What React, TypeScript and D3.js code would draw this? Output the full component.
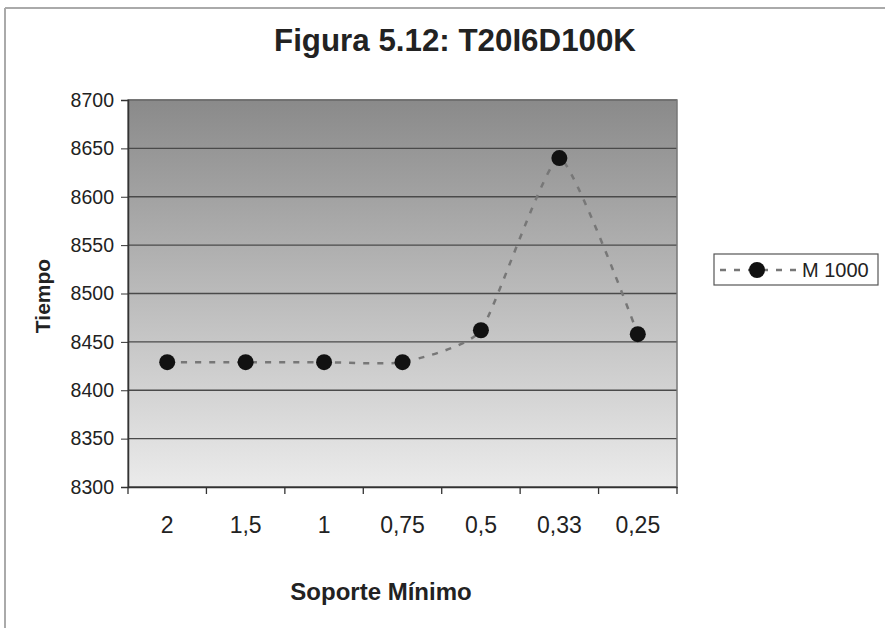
import { useEffect, useRef } from 'react';
import * as d3 from 'd3';

const categories = ['2', '1,5', '1', '0,75', '0,5', '0,33', '0,25'];
const tiempo = [8429, 8429, 8429, 8429, 8462, 8640, 8458];
const yTicks = [8300, 8350, 8400, 8450, 8500, 8550, 8600, 8650, 8700];
const seriesName = 'M 1000';

export default function App() {
  const svgRef = useRef<SVGSVGElement>(null);

  useEffect(() => {
    document.body.style.margin = '0';
    const W = 890;
    const H = 628;
    const m = { top: 100, right: 213, bottom: 141, left: 128 };
    const w = W - m.left - m.right;
    const h = H - m.top - m.bottom;
    const font = 'Arial, "Liberation Sans", sans-serif';

    const root = d3.select(svgRef.current);
    root.selectAll('*').remove();
    root.attr('width', W).attr('height', H).style('display', 'block').style('background', '#fff');

    // outer frame (scan shows left and top edges)
    root.append('line').attr('x1', 5).attr('x2', 5).attr('y1', 8).attr('y2', H)
      .attr('stroke', '#aaa').attr('stroke-width', 2);
    root.append('line').attr('x1', 5).attr('x2', 885).attr('y1', 8).attr('y2', 8)
      .attr('stroke', '#aaa').attr('stroke-width', 2);

    const defs = root.append('defs');
    const grad = defs.append('linearGradient').attr('id', 'bg').attr('x1', 0).attr('x2', 0).attr('y1', 0).attr('y2', 1);
    grad.append('stop').attr('offset', '0%').attr('stop-color', '#8a8a8a');
    grad.append('stop').attr('offset', '100%').attr('stop-color', '#ebebeb');

    const svg = root.append('g').attr('transform', `translate(${m.left},${m.top})`);

    const x = d3.scaleBand().domain(categories).range([0, w]);
    const y = d3.scaleLinear().domain([8300, 8700]).range([h, 0]);

    svg.append('rect').attr('width', w).attr('height', h).attr('fill', 'url(#bg)');

    // gridlines
    svg.selectAll('.grid').data(yTicks).enter().append('line')
      .attr('x1', 0).attr('x2', w)
      .attr('y1', (d) => y(d)).attr('y2', (d) => y(d))
      .attr('stroke', '#4a4a4a').attr('stroke-width', 1.3);

    svg.append('rect').attr('width', w).attr('height', h).attr('fill', 'none')
      .attr('stroke', '#777').attr('stroke-width', 1.5);

    // axes
    const yAxis = svg.append('g').call(d3.axisLeft(y).tickValues(yTicks).tickSize(7).tickPadding(7).tickFormat(d3.format('d')));
    yAxis.select('.domain').attr('stroke', '#333').attr('stroke-width', 1.5);
    yAxis.selectAll('line').attr('stroke', '#333');
    yAxis.selectAll('text').style('font-family', font).style('font-size', '19.5px').attr('fill', '#222');

    const xAxis = svg.append('g').attr('transform', `translate(0,${h})`)
      .call(d3.axisBottom(x).tickSize(0).tickPadding(30));
    xAxis.select('.domain').attr('stroke', '#333').attr('stroke-width', 1.5);
    xAxis.selectAll('text').style('font-family', font).style('font-size', '23px').attr('fill', '#222');
    // ticks between categories
    svg.selectAll('.xt').data(d3.range(categories.length + 1)).enter().append('line')
      .attr('x1', (i) => i * x.bandwidth()).attr('x2', (i) => i * x.bandwidth())
      .attr('y1', h).attr('y2', h + 7).attr('stroke', '#333').attr('stroke-width', 1.3);

    const pts = categories.map((c, i) => [x(c)! + x.bandwidth() / 2, y(tiempo[i])] as [number, number]);

    svg.append('path')
      .attr('d', d3.line().curve(d3.curveCardinal.tension(0.5))(pts))
      .attr('fill', 'none').attr('stroke', '#777').attr('stroke-width', 2.5)
      .attr('stroke-dasharray', '6,8');

    svg.selectAll('.pt').data(pts).enter().append('circle')
      .attr('cx', (d) => d[0]).attr('cy', (d) => d[1]).attr('r', 8).attr('fill', '#111');

    // titles
    root.append('text').attr('x', 455).attr('y', 51).attr('text-anchor', 'middle')
      .attr('textLength', 362).attr('lengthAdjust', 'spacingAndGlyphs')
      .style('font-family', font).style('font-size', '31px').style('font-weight', 'bold').attr('fill', '#222')
      .text('Figura 5.12: T20I6D100K');
    root.append('text').attr('x', 381).attr('y', 600).attr('text-anchor', 'middle')
      .style('font-family', font).style('font-size', '24px').style('font-weight', 'bold').attr('fill', '#222')
      .text('Soporte Mínimo');
    root.append('text').attr('transform', 'translate(50,296) rotate(-90)').attr('text-anchor', 'middle')
      .style('font-family', font).style('font-size', '21px').style('font-weight', 'bold').attr('fill', '#222')
      .text('Tiempo');

    // legend
    const lg = root.append('g').attr('transform', 'translate(714,254)');
    lg.append('rect').attr('width', 164).attr('height', 31).attr('fill', '#fff')
      .attr('stroke', '#555').attr('stroke-width', 1.2);
    lg.append('line').attr('x1', 6).attr('x2', 84).attr('y1', 16).attr('y2', 16)
      .attr('stroke', '#777').attr('stroke-width', 2.5).attr('stroke-dasharray', '6,8');
    lg.append('circle').attr('cx', 43).attr('cy', 16).attr('r', 8).attr('fill', '#111');
    lg.append('text').attr('x', 88).attr('y', 23)
      .style('font-family', font).style('font-size', '20px').attr('fill', '#222').text(seriesName);
  }, []);

  return <svg ref={svgRef}></svg>;
}
